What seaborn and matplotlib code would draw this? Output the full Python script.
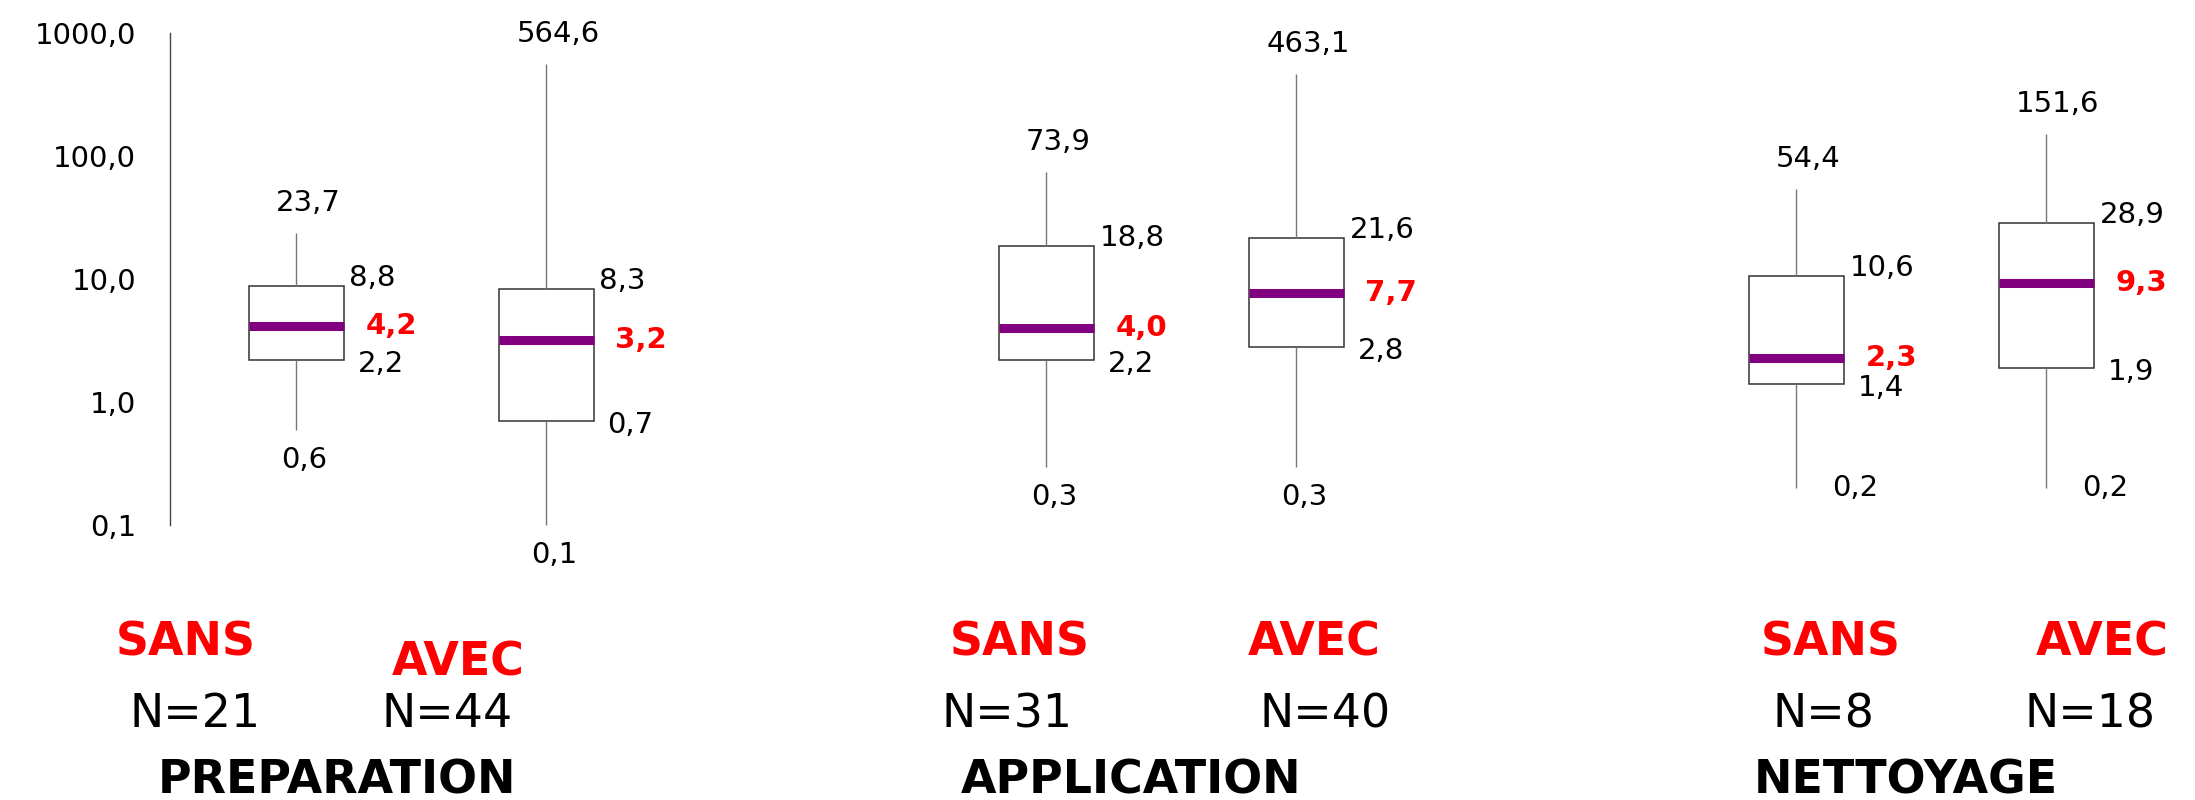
import numpy as np
import pandas as pd
import seaborn as sns
import matplotlib
matplotlib.use('Agg')
import matplotlib.pyplot as plt
from matplotlib.ticker import FixedLocator, FixedFormatter, NullLocator
from matplotlib.transforms import blended_transform_factory

# données : un boxplot par étape et par condition (min, Q1, médiane, Q3, max)
groups = ['PREPARATION', 'APPLICATION', 'NETTOYAGE']
conditions = ['SANS', 'AVEC']
n_counts = [21, 44, 31, 40, 8, 18]
mins = [0.6, 0.1, 0.3, 0.3, 0.2, 0.2]
q1s = [2.2, 0.7, 2.2, 2.8, 1.4, 1.9]
medians = [4.2, 3.2, 4.0, 7.7, 2.3, 9.3]
q3s = [8.8, 8.3, 18.8, 21.6, 10.6, 28.9]
maxs = [23.7, 564.6, 73.9, 463.1, 54.4, 151.6]
ytick_values = [0.1, 1, 10, 100, 1000]
ytick_labels = ['0,1', '1,0', '10,0', '100,0', '1000,0']

boxes = [g + ' ' + c for g in groups for c in conditions]

# tableau long : les 5 valeurs de chaque boîte
rows = []
for i, b in enumerate(boxes):
    for v in (mins[i], q1s[i], medians[i], q3s[i], maxs[i]):
        rows.append({'box': b, 'value': v})
df = pd.DataFrame(rows)

# une case vide entre chaque étape
order = []
for gi, g in enumerate(groups):
    if gi > 0:
        order.append(' ' * gi)
    order += [g + ' ' + c for c in conditions]
slot = {b: order.index(b) for b in boxes}

# mise en page des textes (x en unités de catégorie, y = ligne de base en pixels)
cond_x = [-0.44, 0.648, 2.896, 4.072, 6.138, 7.224]
cond_base = [655, 675, 655, 655, 655, 655]
n_x = [-0.404, 0.606, 2.842, 4.118, 6.108, 7.176]
n_base = 727
group_x = [0.164, 3.34, 6.44]
group_base = 793
min_side = ['below', 'below', 'below', 'below', 'right', 'right']
box_width = 0.38

sns.set_style('white')
plt.rcParams['font.family'] = ['DejaVu Sans']
plt.rcParams['text.color'] = 'black'
plt.rcParams['ytick.color'] = 'black'

fig = plt.figure(figsize=(21.95, 8), dpi=100)
ax = fig.add_axes([170 / 2195, 0.25, 1 - 170 / 2195, 0.75])

sns.boxplot(data=df, x='box', y='value', order=order, whis=(0, 100),
            width=box_width, showcaps=False, showfliers=False, log_scale=True,
            color='white', saturation=1, linecolor='#333333', linewidth=1.1,
            medianprops=dict(color='#800080', linewidth=6.5, solid_capstyle='butt'),
            whiskerprops=dict(color='#777777', linewidth=1.0),
            ax=ax)

ax.set_xlim(-0.504, 7.596)
ax.set_ylim(10 ** -1.607, 10 ** 3.2707)
ax.yaxis.set_major_locator(FixedLocator(ytick_values))
ax.yaxis.set_major_formatter(FixedFormatter(ytick_labels))
ax.yaxis.set_minor_locator(NullLocator())
ax.tick_params(axis='y', labelsize=21, length=8.3, width=1, color='#444444',
               labelcolor='black', pad=16)
ax.set_xticks([])
ax.set_xlabel('')
ax.set_ylabel('')
for s in ['top', 'right', 'bottom']:
    ax.spines[s].set_visible(False)
ax.spines['left'].set_color('#444444')
ax.spines['left'].set_linewidth(1)
ax.spines['left'].set_bounds(0.1, 1000)

fmt = lambda v: f'{v:.1f}'.replace('.', ',')
num_kw = dict(textcoords='offset points', fontsize=21, va='center', color='black')

for i, b in enumerate(boxes):
    x = slot[b]
    right = x + box_width / 2
    ax.annotate(fmt(maxs[i]), (x, maxs[i]), xytext=(8.6, 21.6), ha='center', **num_kw)
    ax.annotate(fmt(q3s[i]), (right, q3s[i]), xytext=(4.3, 5.8), ha='left', **num_kw)
    ax.annotate(fmt(q1s[i]), (right, q1s[i]), xytext=(10, -2.9), ha='left', **num_kw)
    ax.annotate(fmt(medians[i]), (right, medians[i]), xytext=(15.8, 0), ha='left',
                textcoords='offset points', fontsize=21, va='center',
                color='red', fontweight='bold')
    if min_side[i] == 'below':
        ax.annotate(fmt(mins[i]), (x, mins[i]), xytext=(5.8, -21.6), ha='center', **num_kw)
    else:
        ax.annotate(fmt(mins[i]), (x, mins[i]), xytext=(26, 0), ha='left', **num_kw)

# textes sous le graphique
trans = blended_transform_factory(ax.transData, fig.transFigure)
for i, b in enumerate(boxes):
    c = conditions[i % 2]
    ax.text(cond_x[i], 1 - cond_base[i] / 800, c, transform=trans, ha='center',
            va='baseline', fontsize=33, fontweight='bold', color='red', clip_on=False)
    ax.text(n_x[i], 1 - n_base / 800, f'N={n_counts[i]}', transform=trans, ha='center',
            va='baseline', fontsize=33, color='black', clip_on=False)
for gi, g in enumerate(groups):
    ax.text(group_x[gi], 1 - group_base / 800, g, transform=trans, ha='center',
            va='baseline', fontsize=33, fontweight='bold', color='black', clip_on=False)

fig.savefig('out.png', dpi=100)
